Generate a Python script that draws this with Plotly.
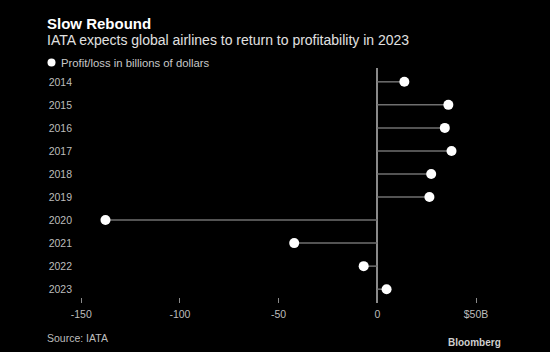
import plotly.graph_objects as go

years = ["2014", "2015", "2016", "2017", "2018", "2019", "2020", "2021", "2022", "2023"]
profit = [13.7, 36.0, 34.2, 37.6, 27.3, 26.4, -137.7, -42.1, -6.9, 4.7]
x_tickvals = [-150, -100, -50, 0, 50]
x_ticktext = ["-150", "-100", "-50", "0", "$50B"]

W, H = 550, 352
L, R, T, B = 75, 40, 68, 49
PW, PH = W - L - R, H - T - B


def px(x):
    return (x - L) / PW


def py(y):
    return (H - B - y) / PH


FONT = "Liberation Sans"

stem_x, stem_y = [], []
for yr, v in zip(years, profit):
    stem_x += [0, v, None]
    stem_y += [yr, yr, None]

fig = go.Figure()
fig.add_trace(go.Scatter(x=stem_x, y=stem_y, mode="lines",
                         line=dict(color="#6f6f6f", width=1.5),
                         hoverinfo="skip", showlegend=False))
fig.add_trace(go.Scatter(x=profit, y=years, mode="markers",
                         marker=dict(color="white", size=10, line=dict(width=0)),
                         name="Profit/loss in billions of dollars", showlegend=False))

x_lo = -150 - (81.2 - L) / 1.974
x_hi = 50 + (W - R - 476) / 1.974

fig.update_layout(
    width=W, height=H,
    margin=dict(l=L, r=R, t=T, b=B),
    paper_bgcolor="black", plot_bgcolor="black",
    font=dict(family=FONT, color="#bdbdbd", size=10.5),
    xaxis=dict(range=[x_lo, x_hi], tickvals=x_tickvals, ticktext=x_ticktext,
               showgrid=False, zeroline=True, zerolinecolor="#8a8a8a", zerolinewidth=1.5,
               showline=False, ticks="inside", ticklen=5, tickcolor="#8a8a8a", tickwidth=1,
               tickfont=dict(size=10.5, color="#bdbdbd"), ticklabelstandoff=3, fixedrange=True),
    yaxis=dict(type="category", categoryorder="array", categoryarray=years,
               range=[9.6, -0.6], showgrid=False, zeroline=False, showline=False,
               ticks="", tickfont=dict(size=10.5, color="#bdbdbd"), ticklabelstandoff=2),
    showlegend=False,
)

anns = [
    dict(text="<b>Slow Rebound</b>", x=px(45), y=py(23), font=dict(size=15, color="white")),
    dict(text="IATA expects global airlines to return to profitability in 2023", x=px(45), y=py(40),
         font=dict(size=14, color="#e0e0e0")),
    dict(text="Profit/loss in billions of dollars", x=px(58.5), y=py(62.5),
         font=dict(size=11.3, color="#c8c8c8")),
    dict(text="Source: IATA", x=px(45), y=py(338), font=dict(size=10.5, color="#bdbdbd")),
]
for a in anns:
    fig.add_annotation(xref="paper", yref="paper", xanchor="left", yanchor="middle",
                       showarrow=False, **a)
fig.add_annotation(xref="paper", yref="paper", xanchor="right", yanchor="middle", showarrow=False,
                   text="<b>Bloomberg</b>", x=px(503), y=py(342),
                   font=dict(size=10, color="#cfcfcf"))

fig.add_shape(type="circle", xref="paper", yref="paper", xsizemode="pixel", ysizemode="pixel",
              xanchor=px(51.5), yanchor=py(62.5), x0=-4, x1=4, y0=-4, y1=4,
              fillcolor="white", line=dict(width=0))

fig.write_html("out.html")
